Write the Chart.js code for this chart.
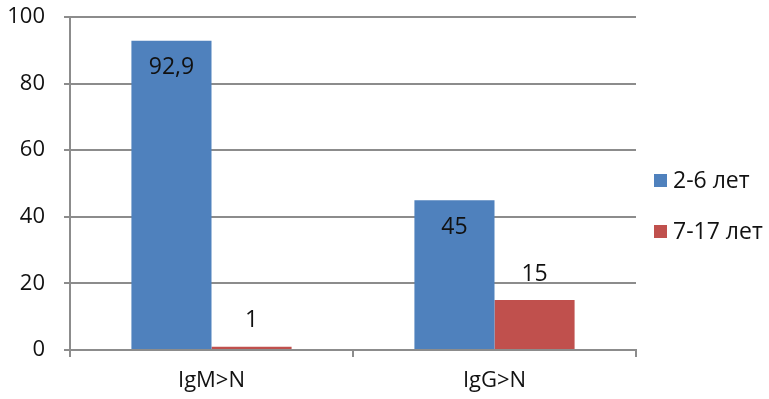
<!DOCTYPE html>
<html>
<head>
<meta charset="utf-8">
<script src="https://cdn.jsdelivr.net/npm/chart.js@4/dist/chart.umd.min.js"></script>
<style>
  html, body { margin: 0; padding: 0; background: #fff; }
  #wrap { width: 769px; height: 399px; }
</style>
</head>
<body>
<div id="wrap"><canvas id="chart"></canvas></div>
<script>
const categories = ["IgM>N", "IgG>N"];
const seriesNames = ["2-6 лет", "7-17 лет"];
const young = [92.9, 45];
const older = [1, 15];
const yTicks = [0, 20, 40, 60, 80, 100];

const FONT = "'Open Sans', 'Liberation Sans', sans-serif";
const colors = ['#4F81BD', '#C0504D'];
const gridColor = '#8c8c8c';
const textColor = '#111';

// value labels: first series inside bar top, second above bar
const valueLabels = {
    id: 'valueLabels',
    afterDatasetsDraw(chart) {
        const ctx = chart.ctx;
        ctx.save();
        ctx.font = '23px ' + FONT;
        ctx.fillStyle = textColor;
        ctx.textAlign = 'center';
        ctx.textBaseline = 'middle';
        chart.data.datasets.forEach((ds, i) => {
            chart.getDatasetMeta(i).data.forEach((bar, j) => {
                const txt = String(ds.data[j]).replace('.', ',');
                const y = i === 0 ? bar.y + 27 : bar.y - 26;
                ctx.fillText(txt, bar.x, y);
            });
        });
        ctx.restore();
    }
};

// legend on the right side
const sideLegend = {
    id: 'sideLegend',
    afterDraw(chart) {
        const ctx = chart.ctx;
        ctx.save();
        ctx.font = '23px ' + FONT;
        ctx.textBaseline = 'middle';
        seriesNames.forEach((name, i) => {
            const y = 181 + i * 51;
            ctx.fillStyle = colors[i];
            ctx.fillRect(654, y - 7, 13, 13);
            ctx.fillStyle = textColor;
            ctx.fillText(name, 673, y);
        });
        ctx.restore();
    }
};

new Chart(document.getElementById('chart'), {
    type: 'bar',
    data: {
        labels: categories,
        datasets: [
            { label: seriesNames[0], data: young, backgroundColor: colors[0] },
            { label: seriesNames[1], data: older, backgroundColor: colors[1] }
        ]
    },
    options: {
        responsive: true,
        maintainAspectRatio: false,
        animation: false,
        events: [],
        layout: { padding: { left: 0, top: 17, right: 133, bottom: 0 } },
        datasets: {
            bar: { barPercentage: 1, categoryPercentage: 0.566 }
        },
        plugins: {
            legend: { display: false },
            tooltip: { enabled: false }
        },
        scales: {
            x: {
                afterFit(scale) {
                    scale.height = 49;
                    scale.paddingLeft = 0;
                    scale.paddingRight = 0;
                },
                grid: {
                    offset: true,
                    drawOnChartArea: false,
                    color: gridColor,
                    lineWidth: 2,
                    tickLength: 7
                },
                border: { color: gridColor, width: 2 },
                ticks: {
                    color: textColor,
                    font: { family: FONT, size: 22 },
                    padding: 11
                }
            },
            y: {
                min: 0,
                max: 100,
                afterFit(scale) {
                    scale.width = 70;
                    scale.paddingTop = 0;
                    scale.paddingBottom = 0;
                },
                afterBuildTicks(scale) { scale.ticks = yTicks.map(v => ({ value: v })); },
                grid: {
                    color: gridColor,
                    lineWidth: 2,
                    tickLength: 6
                },
                border: { color: gridColor, width: 2 },
                ticks: {
                    color: textColor,
                    font: { family: FONT, size: 22 },
                    padding: 19
                }
            }
        }
    },
    plugins: [valueLabels, sideLegend]
});
</script>
</body>
</html>
